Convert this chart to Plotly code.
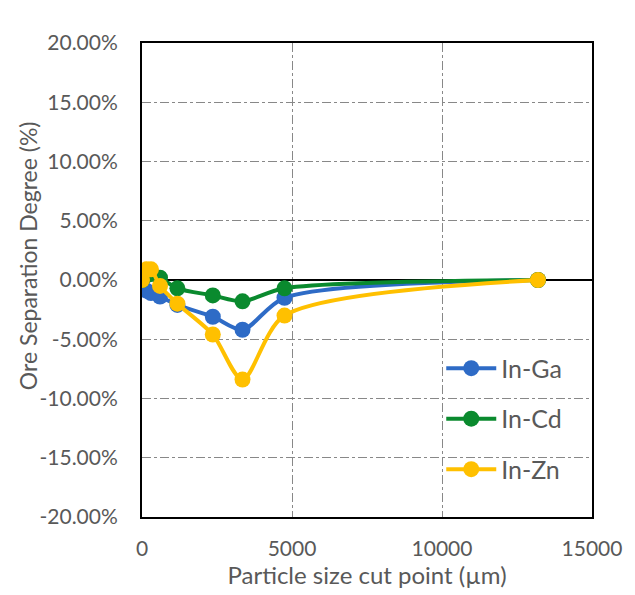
import plotly.graph_objects as go

# Data (particle size cut point in µm, separation degree in %)
cut_points = [0, 150, 300, 600, 1180, 2360, 3350, 4750, 13200]
in_ga = [0.0, -0.9, -1.1, -1.4, -2.1, -3.1, -4.2, -1.5, 0.0]
in_cd = [0.0, 0.4, 0.5, 0.2, -0.7, -1.3, -1.8, -0.7, 0.0]
in_zn = [0.0, 0.9, 0.9, -0.5, -2.0, -4.6, -8.4, -3.0, 0.0]

series_names = ["In-Ga", "In-Cd", "In-Zn"]
series_values = [in_ga, in_cd, in_zn]
colors = ["#2E6BC6", "#0A8A2E", "#FFC000"]

x_tickvals = [0, 5000, 10000, 15000]
x_ticktext = ["0", "5000", "10000", "15000"]
y_tickvals = [0.20, 0.15, 0.10, 0.05, 0.0, -0.05, -0.10, -0.15, -0.20]
y_ticktext = ["20.00%", "15.00%", "10.00%", "5.00%", "0.00%",
              "-5.00%", "-10.00%", "-15.00%", "-20.00%"]

FONT = "Lato, Carlito, Calibri, sans-serif"
GRAY = "#595959"

fig = go.Figure()
for name, vals, col in zip(series_names, series_values, colors):
    fig.add_trace(go.Scatter(
        x=cut_points, y=[v / 100 for v in vals], name=name,
        legendgroup=name,
        mode="lines+markers",
        line=dict(color=col, width=4, shape="spline", smoothing=0.8),
        marker=dict(color=col, size=16),
    ))

fig.update_layout(
    width=635, height=595,
    margin=dict(l=142, r=43, t=43, b=76),
    paper_bgcolor="white", plot_bgcolor="white",
    font=dict(family=FONT, color=GRAY, size=21),
    showlegend=True,
    legend=dict(x=0.665, y=0.362, xanchor="left", yanchor="top",
                bgcolor="rgba(0,0,0,0)", font=dict(size=25, color=GRAY),
                tracegroupgap=15, itemwidth=50),
    annotations=[dict(
        text="Ore Separation Degree (%)", textangle=-90,
        xref="paper", yref="paper", x=-0.2533, y=0.5504,
        xanchor="center", yanchor="middle", showarrow=False,
        font=dict(size=23, color=GRAY, family=FONT),
    )],
)
fig.update_xaxes(
    range=[0, 15000], tickvals=x_tickvals, ticktext=x_ticktext,
    showgrid=True, gridcolor="#888888", griddash="dashdot", gridwidth=1,
    showline=True, linecolor="black", linewidth=2, mirror=True,
    zeroline=False, ticks="", ticklabelstandoff=12,
    title=dict(text="Particle size cut point (µm)", font=dict(size=24, color=GRAY), standoff=6),
    tickfont=dict(size=21, color=GRAY),
)
fig.update_yaxes(
    range=[-0.2, 0.2], tickvals=y_tickvals, ticktext=y_ticktext,
    showgrid=True, gridcolor="#888888", griddash="dashdot", gridwidth=1,
    showline=True, linecolor="black", linewidth=2, mirror=True,
    zeroline=True, zerolinecolor="black", zerolinewidth=2,
    ticks="", ticklabelstandoff=18,
    tickfont=dict(size=21, color=GRAY),
)

fig.write_html("out.html")
